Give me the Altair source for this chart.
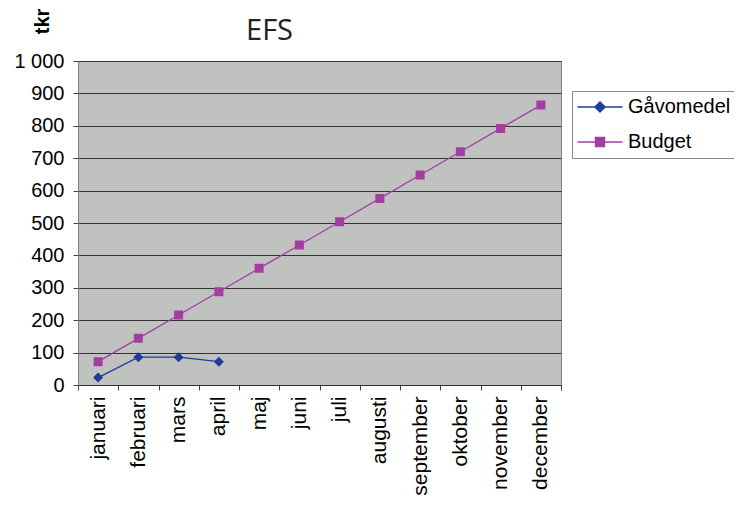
import altair as alt
import pandas as pd

months = ["januari", "februari", "mars", "april", "maj", "juni", "juli",
          "augusti", "september", "oktober", "november", "december"]
series_names = ["Gåvomedel", "Budget"]
gavomedel = [23, 86, 86, 72]
budget = [72, 144, 216, 288, 360, 432, 504, 576, 648, 720, 792, 864]
series_colors = ["#1f3c98", "#a23ea2"]
y_ticks = [0, 100, 200, 300, 400, 500, 600, 700, 800, 900, 1000]

rows = []
for m, v in zip(months, gavomedel):
    rows.append({"month": m, "series": "Gåvomedel", "value": v})
for m, v in zip(months, budget):
    rows.append({"month": m, "series": "Budget", "value": v})
df = pd.DataFrame(rows)

# marker shapes; the horizontal sub-path only shows in the legend (stroke)
diamond = "M0,-1L1,0L0,1L-1,0Z M-4.5,0H4.5"
square = "M-0.9,-0.9H0.9V0.9H-0.9Z M-4.5,0H4.5"

FONT = "Liberation Sans"


def x_scale():
    return alt.Scale(type="band", domain=months, paddingInner=0, paddingOuter=0)


# bottom axis with month labels
x_bottom = alt.X(
    "month:N", sort=months, title=None, scale=x_scale(),
    axis=alt.Axis(labelAngle=270, labelAlign="right", labelBaseline="middle",
                  tickBand="extent", tickSize=5, tickColor="#404040",
                  labelPadding=6, labelFont=FONT, labelFontSize=21,
                  labelColor="black", grid=False, domainColor="#303030"),
)
# top axis only carries the chart heading "EFS"
x_top = alt.X(
    "month:N", sort=months, scale=x_scale(),
    axis=alt.Axis(orient="top", title="EFS", labels=False, ticks=False,
                  domain=False, grid=False,
                  titleFont="Open Sans", titleFontSize=29, titleFontWeight="normal",
                  titleColor="#222222", titleAlign="center",
                  titleBaseline="alphabetic", titleX=191, titleY=-22),
)
y_enc = alt.Y(
    "value:Q",
    scale=alt.Scale(domain=[0, 1000], nice=False),
    axis=alt.Axis(values=y_ticks,
                  labelExpr="replace(format(datum.value, ','), ',', ' ')",
                  title="tkr", titleAngle=270, titleX=-36, titleY=-40,
                  titleFont=FONT, titleFontSize=20, titleFontWeight="bold",
                  titleColor="black", titleAlign="center", titleBaseline="middle",
                  labelFont=FONT, labelFontSize=20, labelColor="black",
                  tickSize=5, tickColor="#404040", labelPadding=9,
                  gridColor="#333333", gridWidth=1.2, domainColor="#808080"),
)

leg = alt.Legend(title=None, orient="none", legendX=494, legendY=30,
                 fillColor="white", strokeColor="#888888", padding=6,
                 labelFont=FONT, labelFontSize=20, labelColor="black",
                 symbolOffset=12, labelOffset=18, rowPadding=15,
                 symbolStrokeWidth=1.5, symbolSize=100)

color_scale = alt.Scale(domain=series_names, range=series_colors)

lines = alt.Chart(df).mark_line(strokeWidth=1.3).encode(
    x=x_top, y=y_enc,
    color=alt.Color("series:N", scale=color_scale, legend=leg, sort=series_names),
)
points = alt.Chart(df).mark_point(filled=True, size=100, strokeWidth=0, opacity=1).encode(
    x=x_bottom, y=y_enc,
    color=alt.Color("series:N", scale=color_scale, legend=leg, sort=series_names),
    stroke=alt.Stroke("series:N", scale=alt.Scale(domain=series_names, range=series_colors),
                      legend=leg, sort=series_names),
    shape=alt.Shape("series:N", scale=alt.Scale(domain=series_names, range=[diamond, square]),
                    legend=leg, sort=series_names),
)

chart = alt.layer(lines, points).resolve_scale(x="independent").properties(
    width=483, height=324,
    autosize=alt.AutoSizeParams(type="none"),
    padding={"left": 70, "top": 53, "right": 173, "bottom": 113},
).configure_view(fill="#c0c2c0", stroke="#808080", strokeWidth=1)

chart.save("out.html", embed_options={"renderer": "svg", "actions": False})
